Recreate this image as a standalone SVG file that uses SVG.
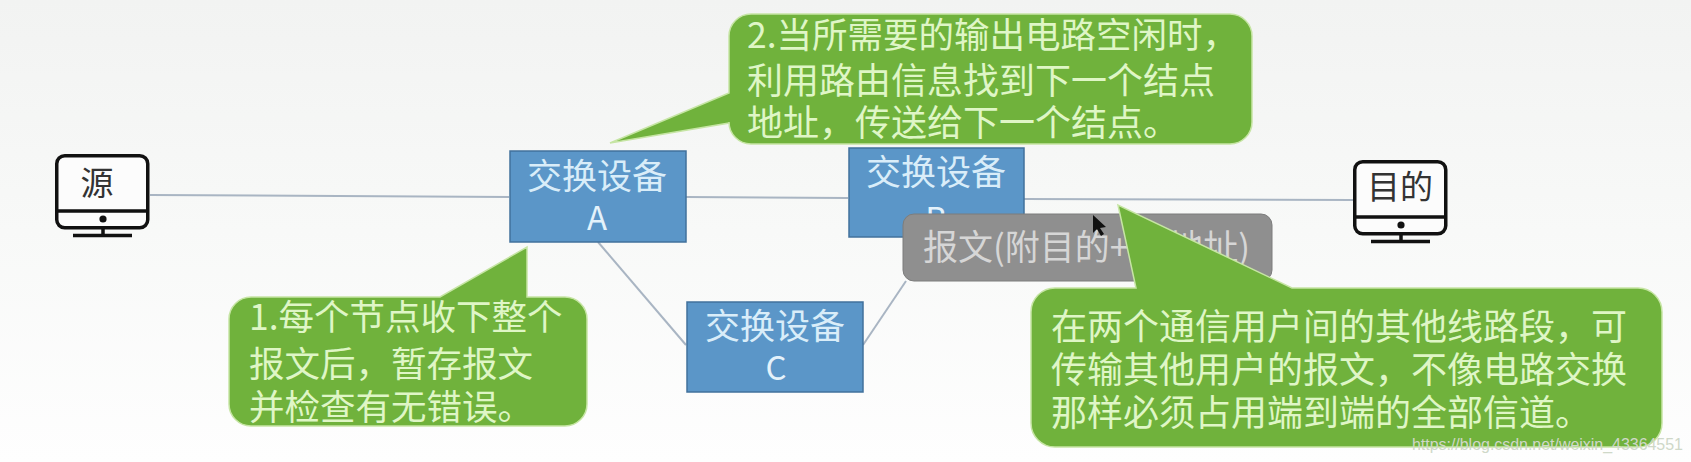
<svg xmlns="http://www.w3.org/2000/svg" width="1691" height="462" viewBox="0 0 1691 462">
<defs>
<linearGradient id="bg" x1="0" y1="0" x2="0" y2="1"><stop offset="0" stop-color="#f2f3f2"/><stop offset="0.5" stop-color="#f8f9f8"/><stop offset="1" stop-color="#fefefe"/></linearGradient>
<g id="monitor">
<rect x="1.75" y="1.75" width="91" height="72" rx="8" fill="#fcfcfc" stroke="#111" stroke-width="3.5"/>
<path d="M2 57H93" stroke="#111" stroke-width="3.5" fill="none"/>
<circle cx="48" cy="65" r="3.6" fill="#111"/>
<path d="M48 74V80M18 81.5H77" stroke="#111" stroke-width="3.5" fill="none"/>
</g>
</defs>
<style>
text{font-family:"Noto Sans CJK SC","Noto Sans",sans-serif}
.box{fill:#5b96c8;stroke:#41719c;stroke-width:1.5}
.boxt{fill:#d9edf9;font-size:35px;text-anchor:middle}
.boxl{fill:#e4f2fb;font-size:33px;text-anchor:middle}
.call{fill:#70b23c;stroke:#c6e5a4;stroke-width:1.5}
.callt{fill:#dff6c6;font-size:35.5px}
.callw{fill:#dff6c6;font-size:36px}
.pc{fill:#333;font-size:33px;text-anchor:middle}
.line{stroke:#a9b5c3;stroke-width:2;fill:none}
</style>
<rect width="1691" height="462" fill="url(#bg)"/>
<g id="connectors">
<path class="line" d="M150 195L509 197"/>
<path class="line" d="M686 197L848 198"/>
<path class="line" d="M1024 199L1353 200"/>
<path class="line" d="M598 242L686 345"/>
<path class="line" d="M863 345L906 281"/>
</g>
<g id="source"><use href="#monitor" x="55" y="154"/><text class="pc" x="97" y="195">源</text></g>
<g id="dest"><use href="#monitor" x="1353" y="160"/><text class="pc" x="1400" y="199">目的</text></g>
<g id="switch-a"><rect class="box" x="510" y="151" width="176" height="91"/><text class="boxt" x="597" y="189">交换设备</text><text class="boxl" x="597" y="230">A</text></g>
<g id="switch-b"><rect class="box" x="849" y="148" width="175" height="89"/><text class="boxt" x="936" y="185">交换设备</text><text class="boxl" x="936" y="231">B</text></g>
<g id="switch-c"><rect class="box" x="687" y="302" width="176" height="90"/><text class="boxt" x="775" y="339">交换设备</text><text class="boxl" x="776" y="380">C</text></g>
<g id="message"><rect x="903" y="214" width="369" height="67" rx="11" fill="#8f8f8f" stroke="#7d7d7d" stroke-width="1"/>
<text x="923" y="260" font-size="35" fill="#d6d6d6">报文(附目的+</text><text x="1250" y="260" font-size="35" fill="#d6d6d6" text-anchor="end">地址)</text></g>
<g id="callout-2"><path class="call" d="M751 14H1230a22 22 0 0 1 22 22V122a22 22 0 0 1 -22 22H751a22 22 0 0 1 -22 -22V123L610 143L729 93V36a22 22 0 0 1 22 -22Z"/>
<text class="callt" x="747" y="48">2.当所需要的输出电路空闲时，</text><text class="callw" x="747" y="94">利用路由信息找到下一个结点</text><text class="callw" x="747" y="136">地址，传送给下一个结点。</text></g>
<g id="callout-1"><path class="call" d="M251 297H440L527 247V297H565a22 22 0 0 1 22 22V404a22 22 0 0 1 -22 22H251a22 22 0 0 1 -22 -22V319a22 22 0 0 1 22 -22Z"/>
<text class="callt" x="249" y="330">1.每个节点收下整个</text><text class="callt" x="249" y="377">报文后，暂存报文</text><text class="callt" x="249" y="420">并检查有无错误。</text></g>
<g id="callout-3"><path class="call" d="M1055 288H1136L1118 205L1292 288H1638a24 24 0 0 1 24 24V423a24 24 0 0 1 -24 24H1055a24 24 0 0 1 -24 -24V312a24 24 0 0 1 24 -24Z"/>
<text class="callw" x="1051" y="340">在两个通信用户间的其他线路段，可</text><text class="callw" x="1051" y="383">传输其他用户的报文，不像电路交换</text><text class="callw" x="1051" y="426">那样必须占用端到端的全部信道。</text></g>
<path id="cursor" d="M1093 215V233L1097 229L1101 236L1104 234L1100 228L1106 227Z" fill="#111"/>
<text id="watermark" x="1412" y="450" font-size="16" fill="#cfd8c8" style="font-family:'Liberation Sans',sans-serif" textLength="271">https://blog.csdn.net/weixin_43364551</text>
</svg>
